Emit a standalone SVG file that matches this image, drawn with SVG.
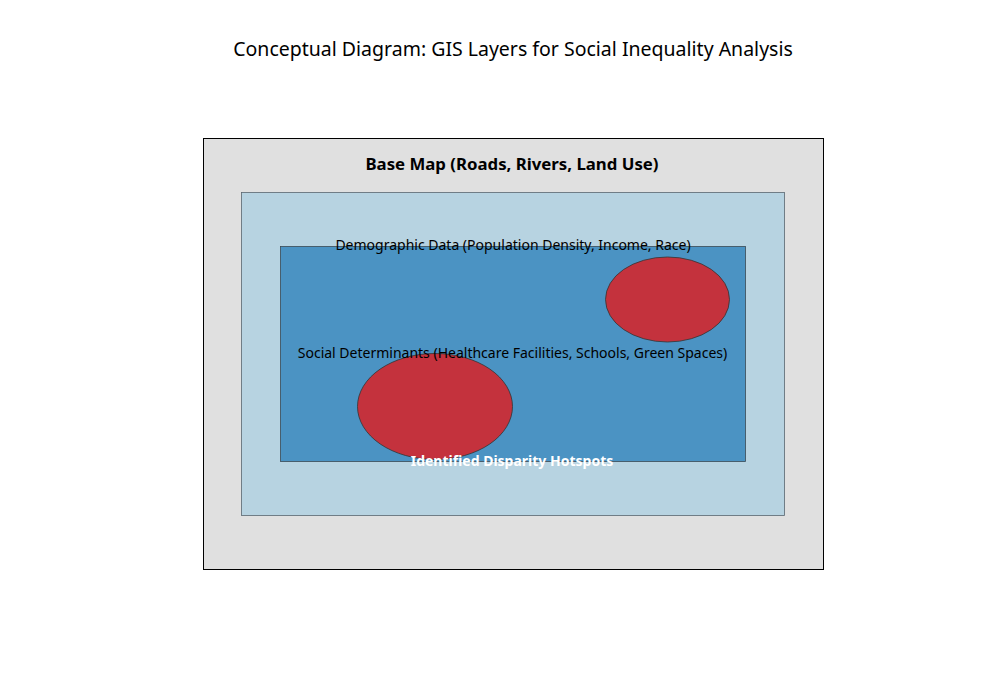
<svg xmlns="http://www.w3.org/2000/svg" width="1000" height="700" viewBox="0 0 1000 700">
<style>
text{font-family:"Noto Sans","Open Sans","DejaVu Sans",sans-serif;text-anchor:middle;fill:#000}
.title{font-size:19.5px}
.lbl{font-size:14px}
.bold{font-weight:bold}
.hot{fill:#c4323d;stroke:#333;stroke-width:0.8}
</style>
<rect width="1000" height="700" fill="#fff"/>
<text class="title" x="513" y="56">Conceptual Diagram: GIS Layers for Social Inequality Analysis</text>
<g id="base-map">
<rect x="203.5" y="138.5" width="620" height="431" fill="#e0e0e0" stroke="#000" stroke-width="1"/>
<text class="bold" x="512" y="169.5" style="font-size:16.8px">Base Map (Roads, Rivers, Land Use)</text>
</g>
<g id="demographic">
<rect x="241.5" y="192.5" width="543" height="323" fill="#b7d3e1" stroke="#5a6670" stroke-width="0.8"/>
</g>
<g id="social">
<rect x="280.5" y="246.5" width="465" height="215" fill="#4b93c3" stroke="#3a4a55" stroke-width="0.8"/>
</g>
<g id="hotspots">
<ellipse class="hot" cx="667.5" cy="299.5" rx="62" ry="42.5"/>
<ellipse class="hot" cx="435" cy="406.5" rx="77.5" ry="53"/>
</g>
<g id="labels">
<text class="lbl" x="513" y="249.5">Demographic Data (Population Density, Income, Race)</text>
<text class="lbl" x="512.5" y="357.5">Social Determinants (Healthcare Facilities, Schools, Green Spaces)</text>
<text class="lbl bold" x="512" y="465.5" style="fill:#fff">Identified Disparity Hotspots</text>
</g>
<g id="connectors"/>
</svg>
